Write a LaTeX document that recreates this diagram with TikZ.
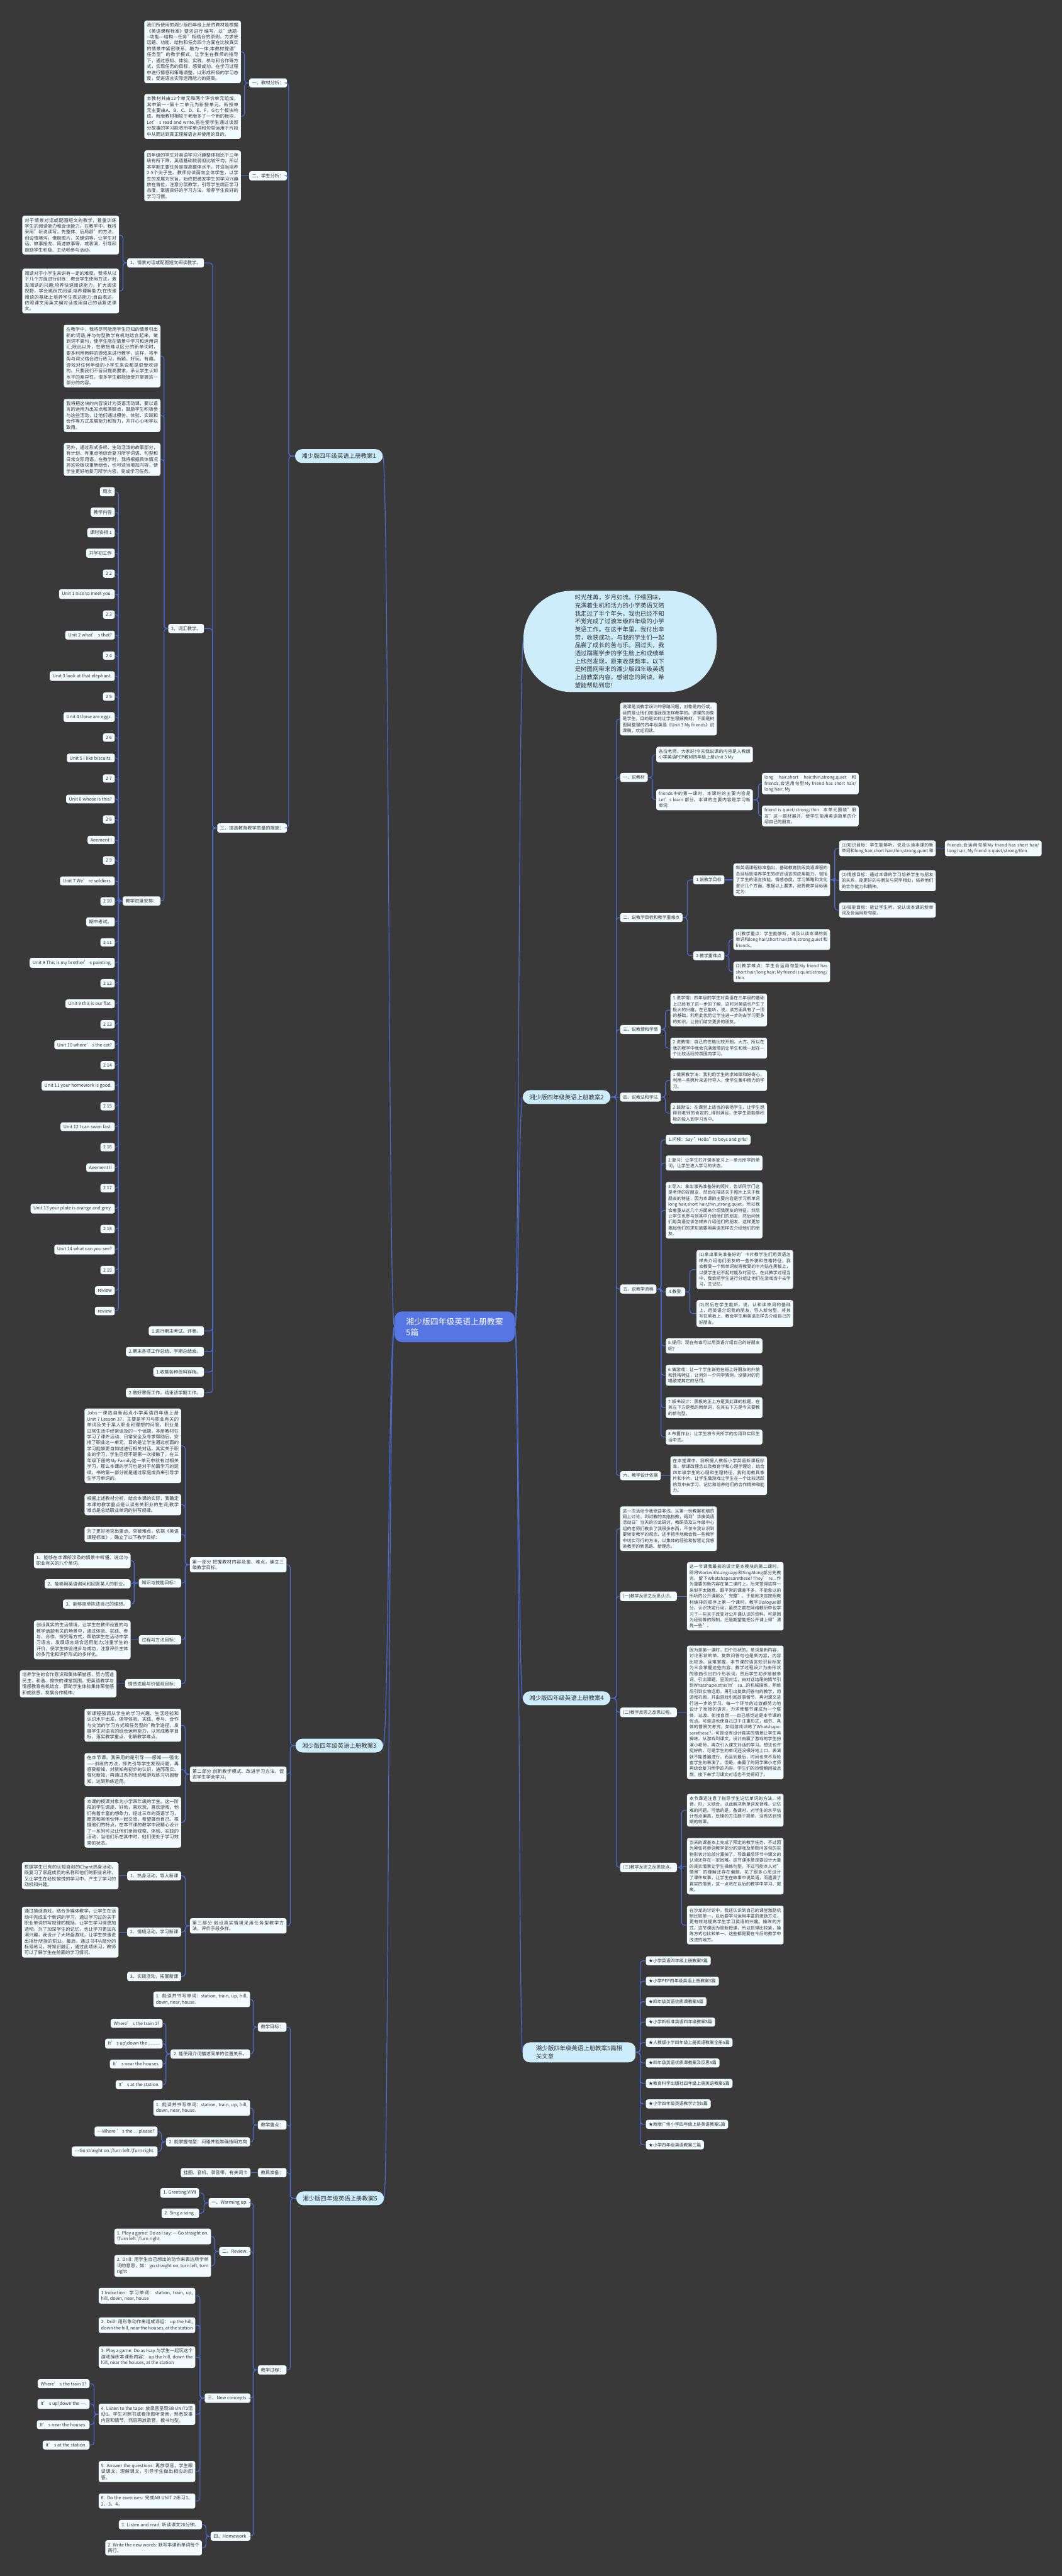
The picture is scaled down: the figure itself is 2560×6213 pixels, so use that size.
\documentclass[tikz,border=0pt]{standalone}
\usepackage{fontspec}
\setmainfont{Noto Sans CJK SC}
\XeTeXlinebreaklocale "zh"
\XeTeXlinebreakskip = 0pt plus 1pt
\definecolor{bgc}{HTML}{3A3939}
\definecolor{linkc}{HTML}{4A6CD8}
\definecolor{boxc}{HTML}{F2FBFE}
\definecolor{pillc}{HTML}{CDEDFB}
\definecolor{corec}{HTML}{5676E4}
\definecolor{inkc}{HTML}{333333}
\newcommand{\linkR}[3][11]{\draw[link] (#2.east) -- ++(#1,0) |- (#3.west);}
\newcommand{\linkL}[3][11]{\draw[link] (#2.west) -- ++(-#1,0) |- (#3.east);}
\newcommand{\linkS}[2]{\draw[link] (#1) -- (#2);}
\tikzset{
  link/.style={draw=linkc, line width=1.8pt, rounded corners=7pt},
  core/.style={fill=corec, text=white, rounded corners=18pt, font=\fontsize{19.5}{26}\selectfont,
    align=left, minimum width=290pt, minimum height=74pt, inner sep=0pt},
  lesson/.style={fill=pillc, text=inkc, rounded corners=17pt, font=\fontsize{14.3}{19}\selectfont,
    inner xsep=16pt, inner ysep=10pt},
  intro/.style={fill=pillc, text=inkc, rounded corners=115pt, font=\fontsize{14.3}{19.2}\selectfont,
    text width=218pt, align=left, minimum width=466pt, minimum height=244pt, inner sep=0pt},
  tagL/.style={fill=boxc, text=inkc, rounded corners=5pt, font=\fontsize{11}{14.3}\selectfont,
    inner xsep=7pt, inner ysep=6pt},
  tagR/.style={tagL, font=\fontsize{10.5}{14.3}\selectfont},
  noteL/.style={tagL, inner xsep=6pt, text width=#1pt, align=justify},
  noteL/.default=221,
  noteR/.style={tagR, inner xsep=6pt, text width=#1pt, align=justify},
  noteR/.default=221
}
\begin{document}
\begin{tikzpicture}[x=1pt, y=-1pt]
\path[use as bounding box, fill=bgc] (0,0) rectangle (2560,6213);

\node[core] (core) at (1096,3200) {湘少版四年级英语上册教案\\5篇};
\node[intro] (intro) at (1495,1547) {时光荏苒，岁月如流。仔细回味，充满着生机和活力的小学英语又陪我走过了半个年头。我也已经不知不觉完成了过渡年级四年级的小学英语工作。在这半年里，我付出辛劳，收获成功，与我的学生们一起品尝了成长的苦与乐。回过头，我透过蹒跚学步的学生脸上和成绩单上欣然发现，原来收获颇丰。以下是树图网带来的湘少版四年级英语上册教案内容，感谢您的阅读，希望能帮助到您!};
\node[lesson, anchor=east] (b1) at (923,1100) {湘少版四年级英语上册教案1};
\node[lesson, anchor=west] (b2) at (1260,2646) {湘少版四年级英语上册教案2};
\node[lesson, anchor=west] (b3) at (712,4210) {湘少版四年级英语上册教案3};
\node[lesson, anchor=west] (b4) at (1260,4096) {湘少版四年级英语上册教案4};
\node[lesson, anchor=west] (b5) at (714,5302) {湘少版四年级英语上册教案5};
\node[lesson, anchor=west, inner xsep=32pt, inner ysep=8pt, align=left] (b5r) at (1260,4950) {湘少版四年级英语上册教案5篇相\\关文章};

\draw[link] (core.west) .. controls (937,3200) and (937,1100) .. (b1.east);
\draw[link] (core.west) .. controls (937,3200) and (937,4210) .. (b3.east);
\draw[link] (core.west) .. controls (937,3200) and (937,5302) .. (b5.east);
\draw[link] (core.east) .. controls (1251,3200) and (1251,1547) .. (intro.west);
\draw[link] (core.east) .. controls (1251,3200) and (1251,2646) .. (b2.west);
\draw[link] (core.east) .. controls (1251,3200) and (1251,4096) .. (b4.west);
\draw[link] (core.east) .. controls (1251,3200) and (1251,4950) .. (b5r.west);

\node[tagL, anchor=east] (b1a) at (692,200) {一、教材分析：};
\node[noteL, anchor=east] (b1a1) at (581,125) {我们所使用的湘少版四年级上册的教材是根据《英语课程标准》要求进行 编写，以"话题-{}-{}-功能-{}-{}-结构-{}-{}-任务"相结合的原则，力求使话题、功能、结构和任务四个方面在比较真实的情景中紧密联系，融为一体;本教材提倡"任务型"的教学模式，让学生在教师的指导下，通过感知、体验、实践、参与和合作等方式，实现任务的目标，感受成功。在学习过程中进行情感和策略调整，以形成积极的学习态度，促进语言实际运用能力的提高。};
\node[noteL, anchor=east] (b1a2) at (581,281) {本教材共由12个单元和两个评价单元组成，其中第一\textasciitilde 第十二单元为新授单元。新授单元主要由A、B、C、D、E、F，G七个板块构成。新版教材相较于老版多了一个新的板块，Let’ s read and write,旨在使学生通过该部分故事的学习能将所学单词和句型运用于片段中从而达到真正理解语言并使用的目的。};
\node[tagL, anchor=east] (b1b) at (692,424) {二、学生分析：};
\node[noteL, anchor=east] (b1b1) at (581,424) {四年级的学生对英语学习兴趣整体相比于三年级有所下降，英语基础较弱但比较平均，所以本学期主要任务是提高整体水平，并适当培养2-5个尖子生。教师应该面向全体学生，以学生的发展为宗旨，始终把激发学生的学习兴趣放在首位，注意分层教学，引导学生端正学习态度，掌握良好的学习方法，培养学生良好的学习习惯。};
\node[tagL, anchor=east] (b1c) at (692,1997) {三、提高教育教学质量的措施：};
\node[tagL, anchor=east] (b1c1) at (492,634) {1、情景对话或配图短文阅读教学。};
\node[noteL, anchor=east] (b1c1a) at (287,567) {对于情景对话或配图短文的教学，着重训练学生的阅读能力和会话能力。在教学中，我将采用"听说读写，先整体、后局部"的方法，创设情境沟，借助图片、关键词等，让学生对话、故事接龙、简述故事等，或表演，引导和鼓励学生积极、主动地参与活动。};
\node[noteL, anchor=east] (b1c1b) at (287,702) {阅读对于小学生来讲有一定的难度，我将从以下几个方面进行训练：教会学生使用方法，激发阅读的兴趣;培养快速阅读能力，扩大阅读视野，学会跳跃式阅读;培养理解能力;在快速阅读的基础上培养学生表达能力;自由表达，仿照课文用英文编对话或用自己的话复述课文。};
\node[tagL, anchor=east] (b1c2) at (492,1516) {2、词汇教学。};
\node[noteL, anchor=east] (b1c2a) at (387,859) {在教学中，我将尽可能用学生已知的情景引出新的词语,并与句型教学有机地结合起来，做到词不离句，使学生能在情景中学习和运用词汇;除此以外，在教授难以区分的新单词时，要多利用新鲜的游戏来进行教学，这样，将手势与词义结合进行练习，新颖、好玩、有趣。游戏对任何年级的小学生来说都是很受欢迎的。只要我们不盲目提高要求，承认学生认知水平的差异性，很多学生都能接受并掌握这一部分的内容。};
\node[noteL, anchor=east] (b1c2b) at (387,1002) {我将把这块的内容设计为英语活动课，要以语言的运用为出发点和落脚点，鼓励学生积极参与这些活动，让他们通过模仿、体验、实践和合作等方式发展能力和智力，开开心心地学以致用。};
\node[noteL, anchor=east] (b1c2c) at (387,1108) {另外，通过形式多样、生动活泼的故事部分，有计划、有重点地综合复习所学词语、句型和日常交际用语。在教学时，我将根据具体情况将这些板块重新组合，也可适当增加内容，使学生更好地复习所学内容，完成学习任务。};
\node[tagL, anchor=east] (jd) at (387,2173) {教学进度安排：};
\node[tagL, anchor=east] (b1c3) at (492,3210) {1.进行期末考试、评卷。};
\node[tagL, anchor=east] (b1c4) at (492,3260) {2.期末各项工作总结、学期总结会。};
\node[tagL, anchor=east] (b1c5) at (492,3309) {1.收集各种资料存档。};
\node[tagL, anchor=east] (b1c6) at (492,3359) {2.做好寒假工作，结束该学期工作。};

\linkL[15]{b1}{b1a}
\linkL[15]{b1}{b1b}
\linkL[15]{b1}{b1c}
\linkL{b1a}{b1a1}
\linkL{b1a}{b1a2}
\linkS{b1b.west}{b1b1.east}
\foreach \nd in {b1c1,b1c2,b1c3,b1c4,b1c5,b1c6}{
  \linkL{b1c}{\nd}
}
\linkL[10]{b1c1}{b1c1a}
\linkL[10]{b1c1}{b1c1b}
\linkL[10]{b1c2}{b1c2a}
\linkL[10]{b1c2}{b1c2b}
\linkL[10]{b1c2}{b1c2c}
\linkL[10]{b1c2}{jd}
\foreach \wk [count=\i from 0] in {周次,教学内容,课时安排 1,开学初工作,2 2,Unit 1 nice to meet you.,2 3,Unit 2 what’ s that?,2 4,Unit 3 look at that elephant.,2 5,Unit 4 those are eggs.,2 6,Unit 5 I like biscuits.,2 7,Unit 6 whose is this?,2 8,Aeement I,2 9,Unit 7 We’ re soldiers.,2 10,期中考试。,2 11,Unit 8 This is my brother’ s painting.,2 12,Unit 9 this is our flat.,2 13,Unit 10 where’ s the cat?,2 14,Unit 11 your homework is good.,2 15,Unit 12 I can swim fast.,2 16,Aeement II,2 17,Unit 13 your plate is orange and grey.,2 18,Unit 14 what can you see?,2 19,review,review}{
  \node[tagL, anchor=east] (wk\i) at (277,1186+49.4*\i) {\wk};
  \linkL[10]{jd}{wk\i}
}

\node[noteR, anchor=west] (b2o) at (1495,1734) {说课是谈教学设计的思路问题，对象是内行或，目的是让他们知道我是怎样教学的。讲课的对象是学生，目的是如何让学生理解教材。下面是树图网整理的四年级英语《Unit 3 My friends》说课稿，欢迎阅读。};
\node[tagR, anchor=west] (b2a) at (1495,1875) {一、说教材};
\node[noteR, anchor=west] (b2a1) at (1582,1820) {各位老师，大家好!今天我说课的内容是人教版小学英语PEP教材四年级上册Unit 3 My};
\node[noteR, anchor=west] (b2a2) at (1582,1929) {friends中的第一课时，本课时的主要内容是Let's learn 部分。本课的主要内容是学习新单词:};
\node[noteR, anchor=west] (b2a2a) at (1837,1890) {long hair,short hair,thin,strong,quiet 和friends,会运用句型My friend has short hair/long hair; My};
\node[noteR, anchor=west] (b2a2b) at (1837,1968) {friend is quiet/strong/thin. 本单元围绕"朋友"这一题材展开，使学生能用英语简单的介绍自己的朋友。};
\node[tagR, anchor=west] (b2b) at (1495,2213) {二、说教学目标和教学重难点};
\node[tagR, anchor=west] (b2b1) at (1671,2122) {1.说教学目标};
\node[noteR, anchor=west] (b2b1a) at (1768,2122) {新英语课程标准指出，基础教育阶段英语课程的总目标是培养学生的综合语言的应用能力。包括了学生的语言技能，情感态度，学习策略和文化意识几个方面。根据以上要求，我将教学目标确定为:};
\node[noteR, anchor=west] (g1) at (2023,2046) {(1)知识目标：学生能够听，说及认读本课的新单词和long hair,short hair,thin,strong,quiet 和};
\node[noteR, anchor=west] (g1a) at (2278,2046) {friends,会运用句型My friend has short hair/long hair; My friend is quiet/strong/thin.};
\node[noteR, anchor=west] (g2) at (2023,2124) {(2)情感目标：通过本课的学习培养学生与朋友的关系，能更好的与朋友与同学相处，培养他们的合作能力和精神。};
\node[noteR, anchor=west] (g3) at (2023,2195) {(3)技能目标：能让学生听，说认读本课的新单词及会运用新句型。};
\node[tagR, anchor=west] (b2b2) at (1671,2305) {2.教学重难点};
\node[noteR, anchor=west] (k1) at (1768,2266) {(1)教学重点：学生能够听，说及认读本课的新单词和long hair,short hair,thin,strong,quiet 和friends。};
\node[noteR, anchor=west] (k2) at (1768,2344) {(2)教学难点：学生会运用句型My friend has short hair/long hair; My friend is quiet/strong/thin.};
\node[tagR, anchor=west] (b2c) at (1495,2483) {三、说教情和学情};
\node[noteR, anchor=west] (b2c1) at (1616,2436) {1.说学情：四年级的学生对英语在三年级的基础上已经有了进一步的了解，这时对英语也产生了极大的兴趣，在已能听，说，读方面具有了一顶的基础。利用此优势让学生进一步的去学习更多的知识，让他们结交更多的朋友。};
\node[noteR, anchor=west] (b2c2) at (1616,2528) {2.说教情：自己的性格比较开朗，大方。所以在我的教学中我会充满激情的让学生和我一起在一个比较活跃的氛围内学习。};
\node[tagR, anchor=west] (b2d) at (1495,2646) {四、说教法和学法};
\node[noteR, anchor=west] (b2d1) at (1616,2606) {1.情景教学法：我利用学生的求知欲和好奇心，利用一些照片来进行导入，使学生集中精力的学习。};
\node[noteR, anchor=west] (b2d2) at (1616,2685) {2.鼓励法：在课堂上适当的表扬学生，让学生想得到老师的肯定的\_得到满足，使学生更能够积极的投入到学习当中。};
\node[tagR, anchor=west] (b2e) at (1495,3109) {五、说教学流程};
\node[tagR, anchor=west] (f1) at (1605,2749) {1.问候：Say "Hello"to boys and girls!};
\node[noteR, anchor=west] (f2) at (1605,2805) {2.复习：让学生打开课本复习上一单元所学的单词，让学生进入学习的状态。};
\node[noteR, anchor=west] (f3) at (1605,2919) {3.导入：拿出事先准备好的照片，告诉同学门这是老师的好朋友，然后在描述关于照片上关于我朋友的特征，因为本课的主要内容是学习新单词long hair,short hair,thin,strong,quiet，所以我会着重从这几个方面来介绍我朋友的特征。然后让学生也参与到其中介绍他们的朋友，然后问他们用英语应该怎样去介绍他们的朋友，这样更加激起他们的求知欲要用英语怎样去介绍他们的朋友。};
\node[tagR, anchor=west] (f4) at (1605,3116) {4.教受:};
\node[noteR, anchor=west] (f4a) at (1679,3062) {(1)拿出事先准备好的'卡片教学生们用英语怎样去介绍他们朋友的一些外貌和性格特征，我会教受一个新单词就将教受的卡片贴在黑板上，以便学生记不起时能及时回忆。在此教学过程当中，我会把学生进行分组让他们在游戏当中去学习，去记忆。};
\node[noteR, anchor=west] (f4b) at (1679,3168) {(2)然后在学生能听，说，认和读单词的基础上，用英语介绍我的朋友，导入新句型，将其写在黑板上，教会学生用英语怎样去介绍自己的好朋友。};
\node[noteR, anchor=west] (f5) at (1605,3246) {5.提问：现在有谁可以用英语介绍自己的好朋友呢?};
\node[noteR, anchor=west] (f6) at (1605,3317) {6.做游戏：让一个学生说他在班上好朋友的外貌和性格特征，让另外一个同学猜测，没猜对的罚唱歌或其它的惩罚。};
\node[noteR, anchor=west] (f7) at (1605,3395) {7.板书设计：黑板的正上方是我此课的标题，在其左下方是我的新单词，在其右下方是今天要教的新句型。};
\node[noteR, anchor=west] (f8) at (1605,3466) {8.布置作业：让学生将今天所学的应用到实际生活中去。};
\node[tagR, anchor=west] (b2f) at (1495,3559) {六、教学设计依据};
\node[noteR, anchor=west] (b2f1) at (1616,3559) {在本堂课中，我根据人教版小学英语新课程标准，新课改理念以及教育学和心理学理论，结合四年级学生的心理和生理特征，我利用教具像片和卡片，让学生做游戏让学生在一个比较活跃的氛中去学习，记忆和培养他们的合作精神和能力。};

\foreach \nd in {b2o,b2a,b2b,b2c,b2e,b2f}{
  \linkR[14]{b2}{\nd}
}
\linkS{b2.east}{b2d.west}
\linkR{b2a}{b2a1}
\linkR{b2a}{b2a2}
\linkR[13]{b2a2}{b2a2a}
\linkR[13]{b2a2}{b2a2b}
\linkR{b2b}{b2b1}
\linkR{b2b}{b2b2}
\linkS{b2b1.east}{b2b1a.west}
\linkR{b2b1a}{g1}
\linkR{b2b1a}{g2}
\linkR{b2b1a}{g3}
\linkS{g1.east}{g1a.west}
\linkR{b2b2}{k1}
\linkR{b2b2}{k2}
\linkR{b2c}{b2c1}
\linkR{b2c}{b2c2}
\linkR{b2d}{b2d1}
\linkR{b2d}{b2d2}
\foreach \nd in {f1,f2,f3,f4,f5,f6,f7,f8}{
  \linkR{b2e}{\nd}
}
\linkR{f4}{f4a}
\linkR{f4}{f4b}
\linkS{b2f.east}{b2f1.west}

\node[noteR, anchor=west] (b4o) at (1495,3687) {这一次活动令我受益非浅。从第一份教案初稿的网上讨论，到试教的亲临指教，再到"华庚英语活动日"当天的沙龙研讨，教研员及三年级中心组的老师们教会了我很多东西，不仅令我认识到要转变教学的观念，还手把手地教会我一些教学中切实可行的方法，以集体的经验和智慧让我感染教学的新思路、新理念。};
\node[tagR, anchor=west] (b4a) at (1495,3850) {(一)教学反思之反思认识。};
\node[noteR, anchor=west] (b4a1) at (1656,3850) {这一节课我最初的设计是本模块的第二课时，即将WorkwithLanguage和SingAlong部分先教完，留下Whatshapesarethese?They’ re...作为重要的新内容在第二课时上。后来觉得这样一来似乎太随意，跟平常的课差不多，不能象以前所听的公开课那么"完整"。于是就决定按照教材编排的顺序上第一个课时，教学Dialogue部分。认识决定行动，虽然之前在网络教研中也学习了一些关于改变对公开课认识的资料，可是因为经验等的限制，还是期望能把公开课上得"漂亮一些"。};
\node[tagR, anchor=west] (b4b) at (1495,4130) {(二)教学反思之反思过程。};
\node[noteR, anchor=west] (b4b1) at (1656,4130) {因为是第一课时，四个形状的。单词是新内容，讨论形状的单、复数问答句也是新内容，内容比较多，且难掌握，本节课的语言知识目标定为三会掌握这些内容。教学过程设计为由形状的歌曲引出四个形状词，然后学生初步接触单词，引出课题，呈现对话，由对话结尾的情节引到Whatshapeisthis?It’ sa...的机械操练，熟练后引到实物运用，再引出复数问答句的教学，用游戏巩固，并由游戏引回故事情节，再对课文进行进一步的学习。每一个环节的过渡都努力地设计了衔接的语言，力求使整节课成为一个整体，过渡、衔接自然——自己感觉这是本节课的优点。可是这也使自己过于注重形式，细节、具体的情景欠考究，如用游戏训练了Whatshapesarethese?，可是没有设计真实的情景让学生再操练。从游戏到课文，设计由赢了游戏的学生扮演小老师，再次引入课文对话的学习。想法也许挺好的，可是学生的单词还没很好地上口，表演就不能普遍进行。而且到最后，时间也来不及检查学生的表演了。但是，由赢了的同学做小老师再综合复习所学的内容，学生们的热情瞬间被点燃，接下来学习课文对话也不觉得闷了。};
\node[tagR, anchor=west] (b4c) at (1495,4504) {(三)教学反思之反思缺点。};
\node[noteR, anchor=west] (b4c1) at (1656,4366) {本节课还注意了指导学生记忆单词的方法，将音、形、义结合，以此解决新单词发音难、记忆难的问题。可惜的是，备课时，对学生的水平估计有点偏高，处理的方法趋于简单，没有达到预期的效果。};
\node[noteR, anchor=west] (b4c2) at (1656,4501) {当天的课基本上完成了预定的教学任务，不过因为紧张将单词教学部分的游戏及单数问答句的实物形状讨论部分漏掉了，导致最后环节中课文的认读还存在一定困难。这节课本意是要设计大量的真实情景让学生操练句型，不过可能本人对"情景"的理解还存在偏颇，花了很多心思设计了课件故事，让学生在故事中说英语，而遗漏了真实的情景，这一点将在以后的教学中学习、提高。};
\node[noteR, anchor=west] (b4c3) at (1656,4643) {在沙龙的讨论中，我还认识到自己的课堂激励机制比较单一，以后要学习运用丰富的激励方法，更有效地提高学生学习英语的兴趣。操练的方式，这节课因为是新授课，所以抓得比较紧，操练方式也比较单一。这些都是要在今后的教学中改进的地方。};

\foreach \nd in {b4o,b4a,b4b,b4c}{
  \linkR[14]{b4}{\nd}
}
\linkS{b4a.east}{b4a1.west}
\linkS{b4b.east}{b4b1.west}
\linkR{b4c}{b4c1}
\linkR{b4c}{b4c2}
\linkR{b4c}{b4c3}

\foreach \rel [count=\i from 0] in {★小学英语四年级上册教案5篇,★小学PEP四年级英语上册教案5篇,★四年级英语优质课教案5篇,★小学新标准英语四年级教案5篇,★人教版小学四年级上册英语教案全册5篇,★四年级英语优质课教案及反思5篇,★教育科学出版社四年级上册英语教案5篇,★小学四年级英语教学计划5篇,★新版广州小学四年级上册英语教案5篇,★小学四年级英语教案三篇}{
  \node[tagR, anchor=west] (rel\i) at (1557,4729+49.33*\i) {\rel};
  \linkR{b5r}{rel\i}
}

\node[noteL, anchor=east] (p1) at (691,3774) {第一部分 把握教材内容及重、难点，确立三维教学目标。};
\node[noteL, anchor=east] (p1a) at (437,3487) {Jobs一课选自新起点小学英语四年级上册Unit 7 Lesson 37，主要是学习与职业有关的单词及关于某人职业和理想的问答。职业是日常生活中经常谈及的一个话题，本册教材在学习了课外活动、日常安全及寻求帮助后，安排了职业这一单元，目的是让学生通过前面的学习能够更自如地进行相关对话。其实关于职业的学习，学生已经不是第一次接触了，在三年级下册的My Family这一单元中就有过相关学习，那么本课的学习也是对于前面学习的延续。书的第一部分就是通过家庭成员来引导学生学习单词的。};
\node[noteL, anchor=east] (p1b) at (437,3629) {根据上述教材分析，结合本课的实际，我确定本课的教学重点是认读有关职业的生词;教学难点是总结职业单词的拼写规律。};
\node[noteL, anchor=east] (p1c) at (437,3701) {为了更好地突出重点、突破难点，依据《英语课程标准》，确立了以下教学目标：};
\node[tagL, anchor=east] (p1d) at (437,3818) {知识与技能目标：};
\node[noteL, anchor=east] (p1d1) at (315,3764) {1、能够在本课所涉及的情景中听懂、说出与职业有关的八个单词。};
\node[tagL, anchor=east] (p1d2) at (315,3820) {2、能够用英语询问和回答某人的职业。};
\node[tagL, anchor=east] (p1d3) at (315,3869) {3、能够简单陈述自己的理想。};
\node[tagL, anchor=east] (p1e) at (437,3955) {过程与方法目标：};
\node[noteL, anchor=east] (p1e1) at (315,3955) {创设真实的生活情境，让学生在教师设置的与教学话题有关的场景中，通过体验、实践、参与、合作、探究等方式，帮助学生在活动中学习语言，发展语言综合运用能力;注重学生的评价，使学生体验进步与成功，注意评价主体的多元化和评价形式的多样化。};
\node[tagL, anchor=east] (p1f) at (437,4061) {情感态度与价值观目标：};
\node[noteL, anchor=east] (p1f1) at (281,4061) {培养学生的合作意识和集体荣誉感，努力营造民主、和谐、愉快的课堂氛围，把英语教学与情感教育有机结合，帮助学生体验集体荣誉感和成就感，发展合作精神。};
\node[noteL, anchor=east] (p2) at (691,4279) {第二部分 创新教学模式、改进学习方法，促进学生学会学习。};
\node[noteL, anchor=east] (p2a) at (437,4161) {新课程强调从学生的学习兴趣、生活经验和认识水平出发，倡导体验、实践、参与、合作与交流的学习方式和任务型的\textasciigrave 教学途径，发展学生对语言的综合运用能力，以完成教学目标、落实教学重点、化解教学难点。};
\node[noteL, anchor=east] (p2b) at (437,4268) {在本节课，我采用的是引导——感知——强化——训练的方法，即先引导学生发现问题，再感受新知，对新知有初步的认识，进而落实、强化新知，再通过系列活动和游戏练习巩固新知，达到熟练运用。};
\node[noteL, anchor=east] (p2c) at (437,4395) {本课的授课对象为小学四年级的学生。这一阶段的学生调皮、好动，喜欢玩，喜欢游戏，他们有着丰富的想象力，经过三年的英语学习，愿意和其他伙伴一起交流，希望展示自己。根据他们的特点，在本节课的教学中我精心设计了一系列可以让他们亲自观察、体验、实践的活动，当他们乐在其中时，他们便处于学习效果的状态。};
\node[noteL, anchor=east] (p3) at (691,4645) {第三部分 创设真实情境采用任务型教学方法，评价手段多样。};
\node[tagL, anchor=east] (p3a) at (437,4524) {1、热身活动，导入新课};
\node[noteL, anchor=east] (p3a1) at (286,4524) {根据学生已有的认知自创的Chant热身活动，既复习了家庭成员的名称和他们的职业名称，又让学生在轻松愉悦的学习中，产生了学习的动机和兴趣。};
\node[tagL, anchor=east] (p3b) at (437,4660) {2、情境活动，学习新课};
\node[noteL, anchor=east] (p3b1) at (286,4660) {通过猜谜游戏，结合多媒体教学，让学生在活动中完成五个新词的学习，通过学习过的关于职业单词拼写规律的概括，让学生学习得更加透彻。为了加深学生的记忆，也让学习更加充满兴趣，我设计了大转盘游戏，让学生快速说出指针所指的职业。最后，通过书中A部分的标号练习，将知识融汇，通过此项练习，教师可以了解学生在前面的学习情况。};
\node[tagL, anchor=east] (p3c) at (437,4767) {3、实践活动，拓展新课};

\foreach \nd in {p1,p2,p3}{
  \linkL[12]{b3}{\nd}
}
\foreach \nd in {p1a,p1b,p1c,p1d,p1e,p1f}{
  \linkL{p1}{\nd}
}
\foreach \nd in {p1d1,p1d2,p1d3}{
  \linkL{p1d}{\nd}
}
\linkS{p1e.west}{p1e1.east}
\linkS{p1f.west}{p1f1.east}
\foreach \nd in {p2a,p2b,p2c}{
  \linkL{p2}{\nd}
}
\foreach \nd in {p3a,p3b,p3c}{
  \linkL{p3}{\nd}
}
\linkS{p3a.west}{p3a1.east}
\linkS{p3b.west}{p3b1.east}

\node[tagL, anchor=east] (q1) at (691,4889) {教学目标：};
\node[noteL, anchor=east] (q1a) at (603,4822) {1. 能读并书写单词：station, train, up, hill, down, near, house.};
\node[tagL, anchor=east] (q1b) at (603,4954) {2. 能使用介词描述简单的位置关系。};
\node[tagL, anchor=east] (q1b1) at (392,4880) {Where’ s the train 1?};
\node[tagL, anchor=east] (q1b2) at (392,4929) {It’ s up\textbackslash down the \_\_\_\_.};
\node[tagL, anchor=east] (q1b3) at (392,4978) {It’ s near the houses.};
\node[tagL, anchor=east] (q1b4) at (392,5028) {It’ s at the station.};
\node[tagL, anchor=east] (q2) at (691,5125) {教学重点：};
\node[noteL, anchor=east] (q2a) at (603,5084) {1. 能读并书写单词：station, train, up, hill, down, near, house.};
\node[tagL, anchor=east] (q2b) at (603,5166) {2. 能掌握句型：问路并能准确指明方向};
\node[tagL, anchor=east] (q2b1) at (380,5141) {-{}-{}-Where ' s the ... please?};
\node[tagL, anchor=east] (q2b2) at (380,5189) {-{}-{}-Go straight on.\textbackslash Turn left.\textbackslash Turn right.};
\node[tagL, anchor=east] (q3) at (691,5240) {教具准备：};
\node[tagL, anchor=east] (q3a) at (604,5240) {挂图、音机、录音带、有关词卡};
\node[tagL, anchor=east] (q4) at (691,5716) {教学过程：};
\node[tagL, anchor=east] (w1) at (604,5313) {一、Warming up.};
\node[tagL, anchor=east] (w1a) at (480,5289) {1. Greeting.VIⅦ};
\node[tagL, anchor=east] (w1b) at (480,5338) {2. Sing a song .};
\node[tagL, anchor=east] (w2) at (604,5430) {二、Review.};
\node[noteL, anchor=east] (w2a) at (509,5394) {1. Play a game: Do as I say: -{}-{}-Go straight on.\textbackslash Turn left.\textbackslash Turn right.};
\node[noteL, anchor=east] (w2b) at (509,5465) {2. Drill: 用学生自己想出的动作来表达所学单词的意思，如： go straight on, turn left, turn right};
\node[tagL, anchor=east] (w3) at (604,5784) {三、New concepts.};
\node[noteL, anchor=east] (w3a) at (471,5537) {1.Induction: 学习单词： station, train, up, hill, down, near, house};
\node[noteL, anchor=east] (w3b) at (471,5608) {2. Drill: 用形象动作来组成词组： up the hill, down the hill, near the houses, at the station};
\node[noteL, anchor=east] (w3c) at (471,5685) {3. Play a game: Do as I say.与学生一起玩这个游戏操练本课新内容： up the hill, down the hill, near the houses, at the station};
\node[noteL, anchor=east] (w3d) at (471,5823) {4. Listen to the tape: 放录音呈现SB UNIT2活动1。学生对照书或看挂图听录音，熟悉故事内容和情节，然后再放录音，板书句型。};
\node[tagL, anchor=east] (w3d1) at (216,5749) {Where’ s the train 1?};
\node[tagL, anchor=east] (w3d2) at (216,5798) {It’ s up\textbackslash down the -{}-{}-.};
\node[tagL, anchor=east] (w3d3) at (216,5848) {It’ s near the houses.};
\node[tagL, anchor=east] (w3d4) at (216,5897) {It’ s at the station.};
\node[noteL, anchor=east] (w3e) at (471,5961) {5. Answer the questions: 再放录音，学生跟读课文，理解课文，引导学生做出相应的回答。};
\node[noteL, anchor=east] (w3f) at (471,6032) {6. Do the exercises: 完成AB UNIT 2练习1、2、3、4。};
\node[tagL, anchor=east] (w4) at (604,6117) {四、Homework.};
\node[tagL, anchor=east] (w4a) at (487,6089) {1. Listen and read: 听读课文20分钟。};
\node[noteL, anchor=east] (w4b) at (487,6145) {2. Write the new words: 默写本课新单词每个两行。};

\foreach \nd in {q1,q2,q3,q4}{
  \linkL[14]{b5}{\nd}
}
\linkL{q1}{q1a}
\linkL{q1}{q1b}
\foreach \nd in {q1b1,q1b2,q1b3,q1b4}{
  \linkL{q1b}{\nd}
}
\linkL{q2}{q2a}
\linkL{q2}{q2b}
\linkL{q2b}{q2b1}
\linkL{q2b}{q2b2}
\linkS{q3.west}{q3a.east}
\foreach \nd in {w1,w2,w3,w4}{
  \linkL{q4}{\nd}
}
\linkL{w1}{w1a}
\linkL{w1}{w1b}
\linkL{w2}{w2a}
\linkL{w2}{w2b}
\foreach \nd in {w3a,w3b,w3c,w3d,w3e,w3f}{
  \linkL{w3}{\nd}
}
\foreach \nd in {w3d1,w3d2,w3d3,w3d4}{
  \linkL{w3d}{\nd}
}
\linkL{w4}{w4a}
\linkL{w4}{w4b}
\end{tikzpicture}
\end{document}
